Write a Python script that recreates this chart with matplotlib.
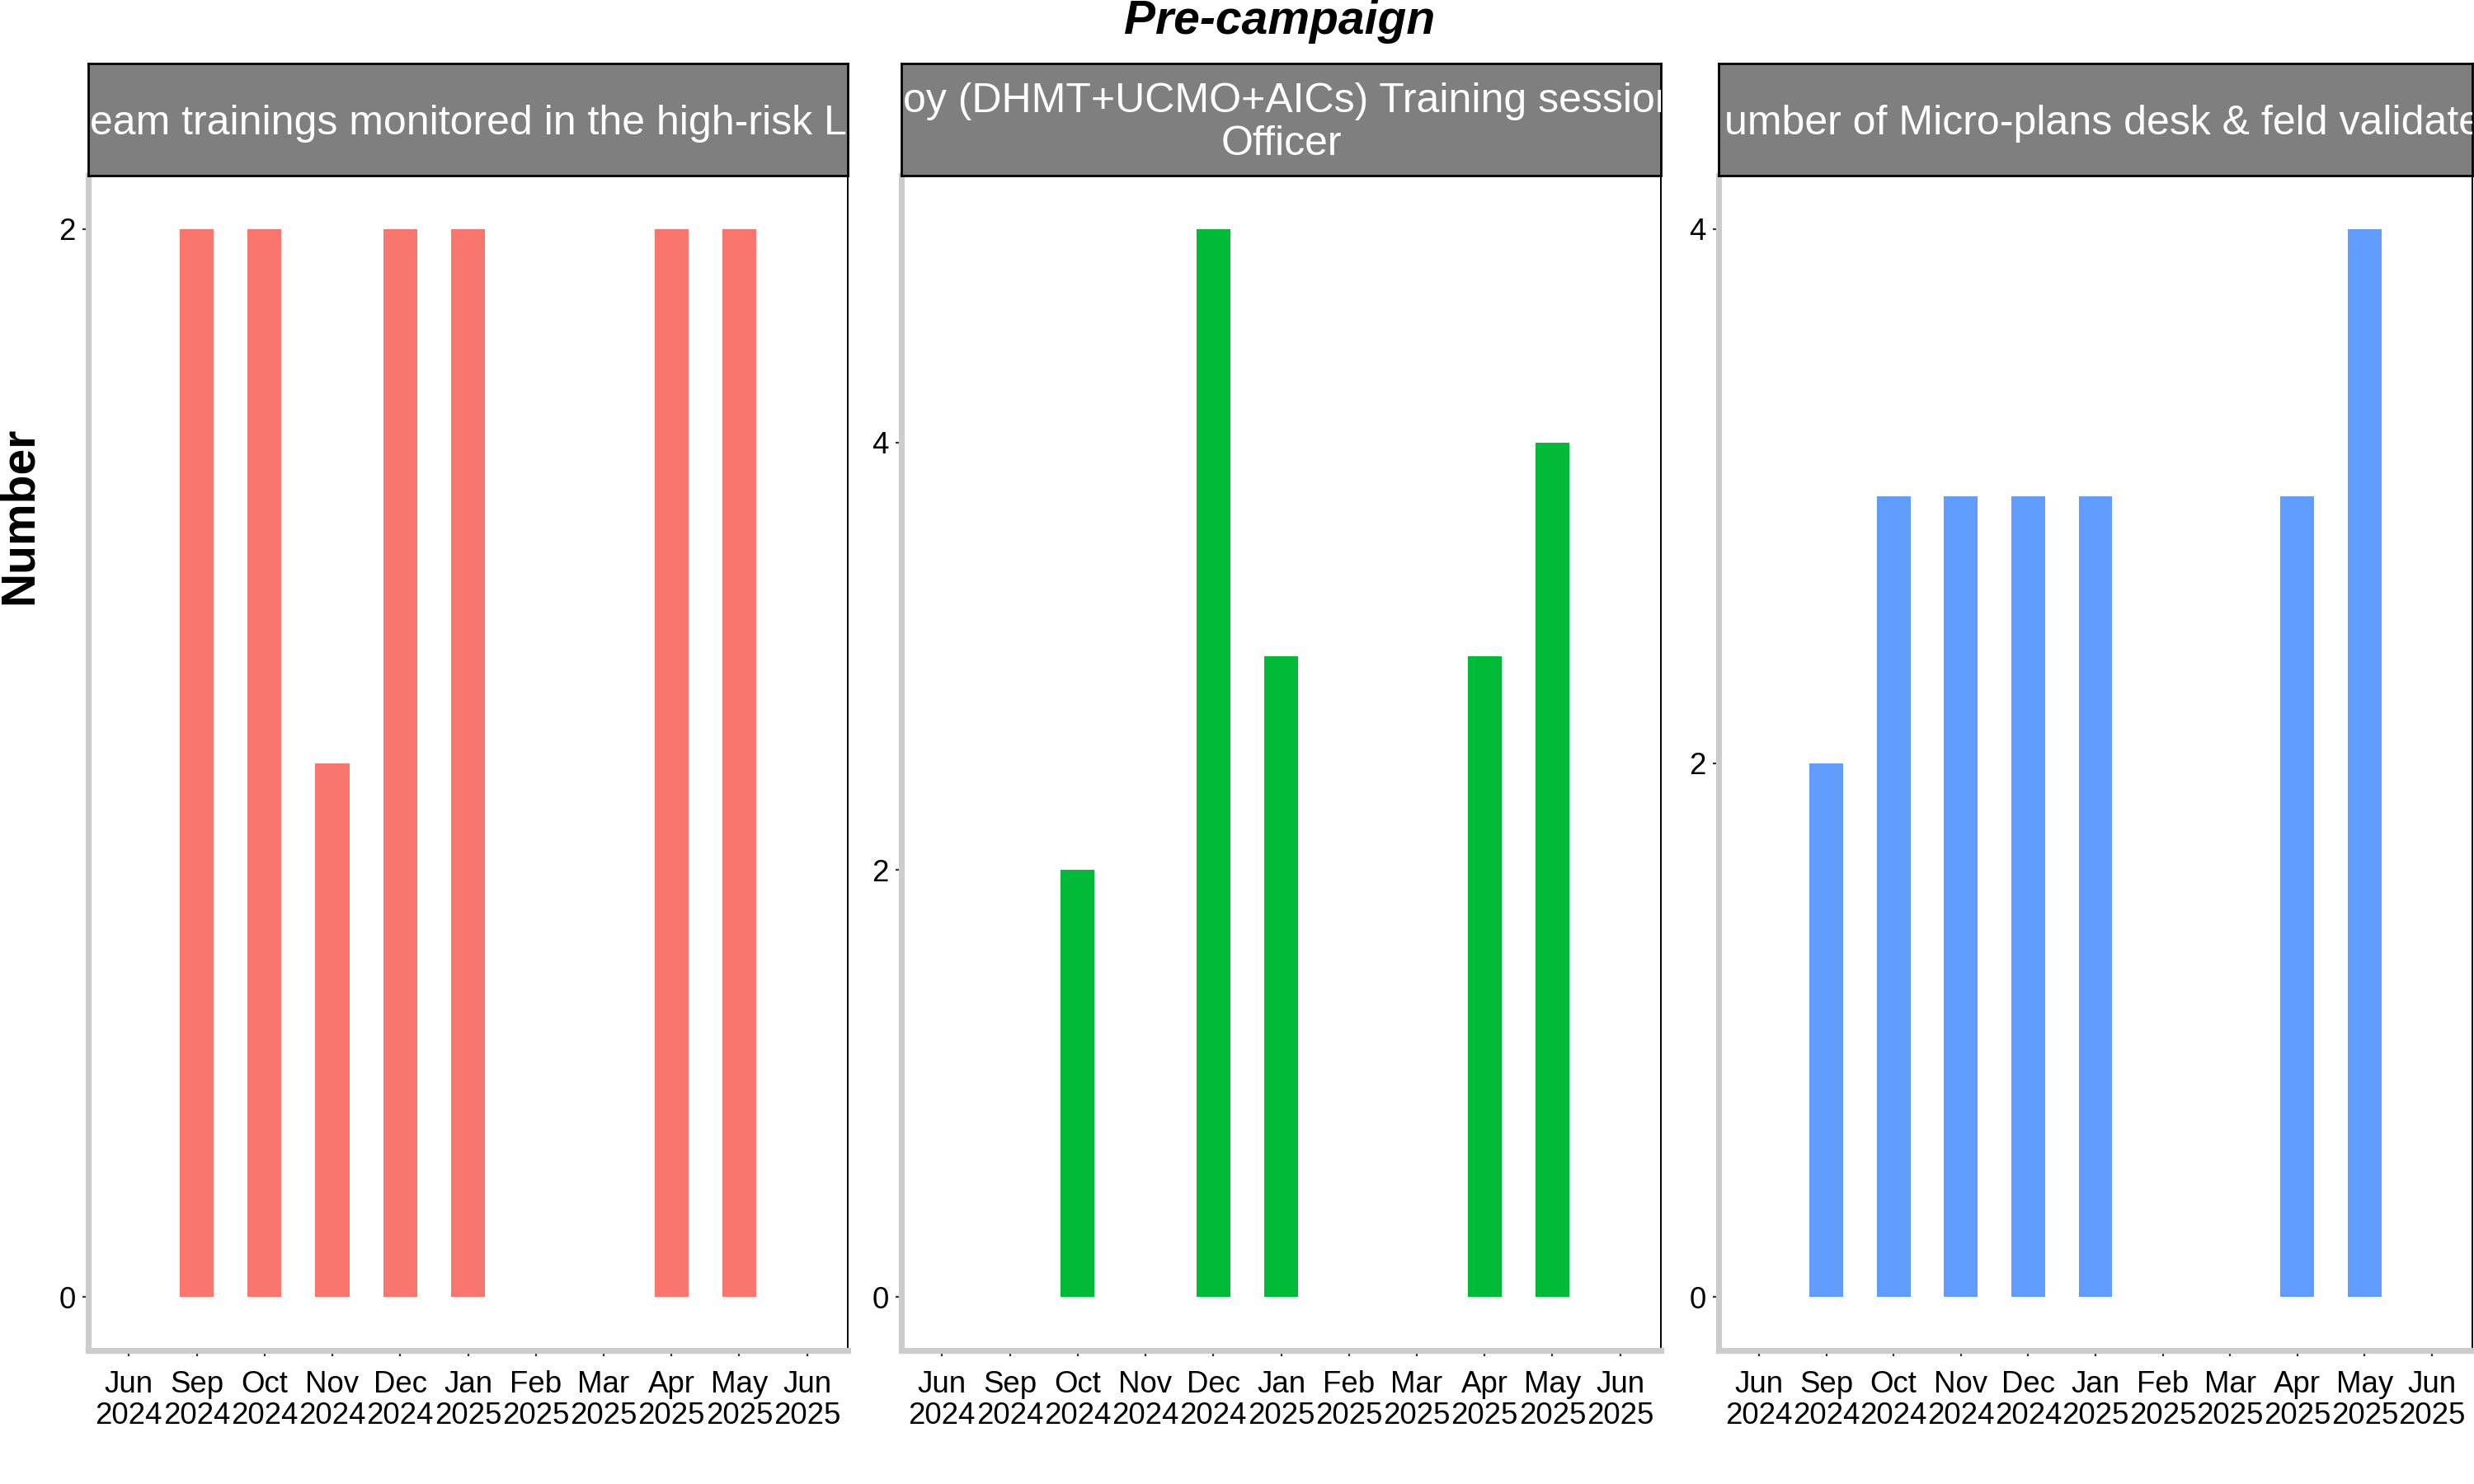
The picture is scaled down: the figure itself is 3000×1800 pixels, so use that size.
import matplotlib
matplotlib.use("Agg")
import matplotlib.pyplot as plt
import numpy as np

plt.rcParams['font.family'] = ['Liberation Sans', 'DejaVu Sans']

# ---- data ----
months = ["Jun\n2024", "Sep\n2024", "Oct\n2024", "Nov\n2024", "Dec\n2024", "Jan\n2025",
          "Feb\n2025", "Mar\n2025", "Apr\n2025", "May\n2025", "Jun\n2025"]
panel1_vals = [None, 2, 2, 1, 2, 2, None, None, 2, 2, None]
panel2_vals = [None, None, 2, None, 5, 3, None, None, 3, 4, None]
panel3_vals = [None, 2, 3, 3, 3, 3, None, None, 3, 4, None]
panel_colors = ["#F8766D", "#00BA38", "#619CFF"]
panel_yticks = [[0, 2], [0, 2, 4], [0, 2, 4]]
strip_line1 = ["eam trainings monitored in the high-risk L",
               "oy (DHMT+UCMO+AICs) Training session",
               "umber of Micro-plans desk & feld validate"]
strip_line2 = [None, "Officer", None]
title = "Pre-campaign"
ylabel = "Number"

W, H = 3000, 1800
fig = plt.figure(figsize=(15, 9), dpi=200)

panel_px = [(107, 1028), (1093, 2014), (2084, 2998)]
top_px, bot_px = 213, 1638
strip_top = 77
TICK_FS = 13.2
STRIP_FS = 18

def fx(px):
    return px / W

def fy(py):
    return 1 - py / H

all_vals = [panel1_vals, panel2_vals, panel3_vals]
x = np.arange(len(months))
for i, (l, r) in enumerate(panel_px):
    ax = fig.add_axes([fx(l), fy(bot_px), fx(r - l), (bot_px - top_px) / H])
    vals = all_vals[i]
    xs = [x[j] for j, v in enumerate(vals) if v is not None]
    hs = [v for v in vals if v is not None]
    ax.bar(xs, hs, width=0.5, color=panel_colors[i], edgecolor='none')
    vmax = max(hs)
    ax.set_ylim(-0.05 * vmax, vmax * 1.05)
    ax.set_xlim(-0.6, len(months) - 0.4)
    ax.set_xticks(x)
    ax.set_xticklabels(months, fontsize=TICK_FS, linespacing=1.1)
    ax.set_yticks(panel_yticks[i])
    ax.tick_params(axis='both', length=2.6, width=0.8, color='#333333', labelcolor='black',
                   labelsize=TICK_FS)
    ax.tick_params(axis='x', pad=6)
    ax.tick_params(axis='y', pad=3)
    for s in ['left', 'bottom']:
        ax.spines[s].set_color('#CCCCCC')
        ax.spines[s].set_linewidth(2.6)
        ax.spines[s].set_capstyle('projecting')
    for s in ['top', 'right']:
        ax.spines[s].set_color('black')
        ax.spines[s].set_linewidth(0.7)
    ax.set_facecolor('white')

    # strip
    sax = fig.add_axes([fx(l), fy(top_px), fx(r - l), (top_px - strip_top) / H])
    sax.set_facecolor('#7F7F7F')
    sax.set_xticks([])
    sax.set_yticks([])
    for s in sax.spines.values():
        s.set_color('black')
        s.set_linewidth(1.0)
    if strip_line2[i] is None:
        if i == 0:
            sax.text(0.5, 0.46, strip_line1[i], ha='center', va='center', color='white',
                     fontsize=STRIP_FS, transform=sax.transAxes, clip_on=True)
        else:
            sax.text(0.008, 0.46, strip_line1[i], ha='left', va='center', color='white',
                     fontsize=STRIP_FS, transform=sax.transAxes, clip_on=True)
    else:
        sax.text(0.002, 0.66, strip_line1[i], ha='left', va='center', color='white',
                 fontsize=STRIP_FS, transform=sax.transAxes, clip_on=True)
        sax.text(0.5, 0.28, strip_line2[i], ha='center', va='center', color='white',
                 fontsize=STRIP_FS, transform=sax.transAxes, clip_on=True)

fig.text(fx(1552), fy(26), title, ha='center', va='center', fontsize=20.5,
         fontweight='bold', fontstyle='italic')
fig.text(fx(24), fy(625), ylabel, ha='center', va='center', rotation=90,
         fontsize=20.5, fontweight='bold')

fig.savefig("out.png", dpi=200, facecolor='white')
